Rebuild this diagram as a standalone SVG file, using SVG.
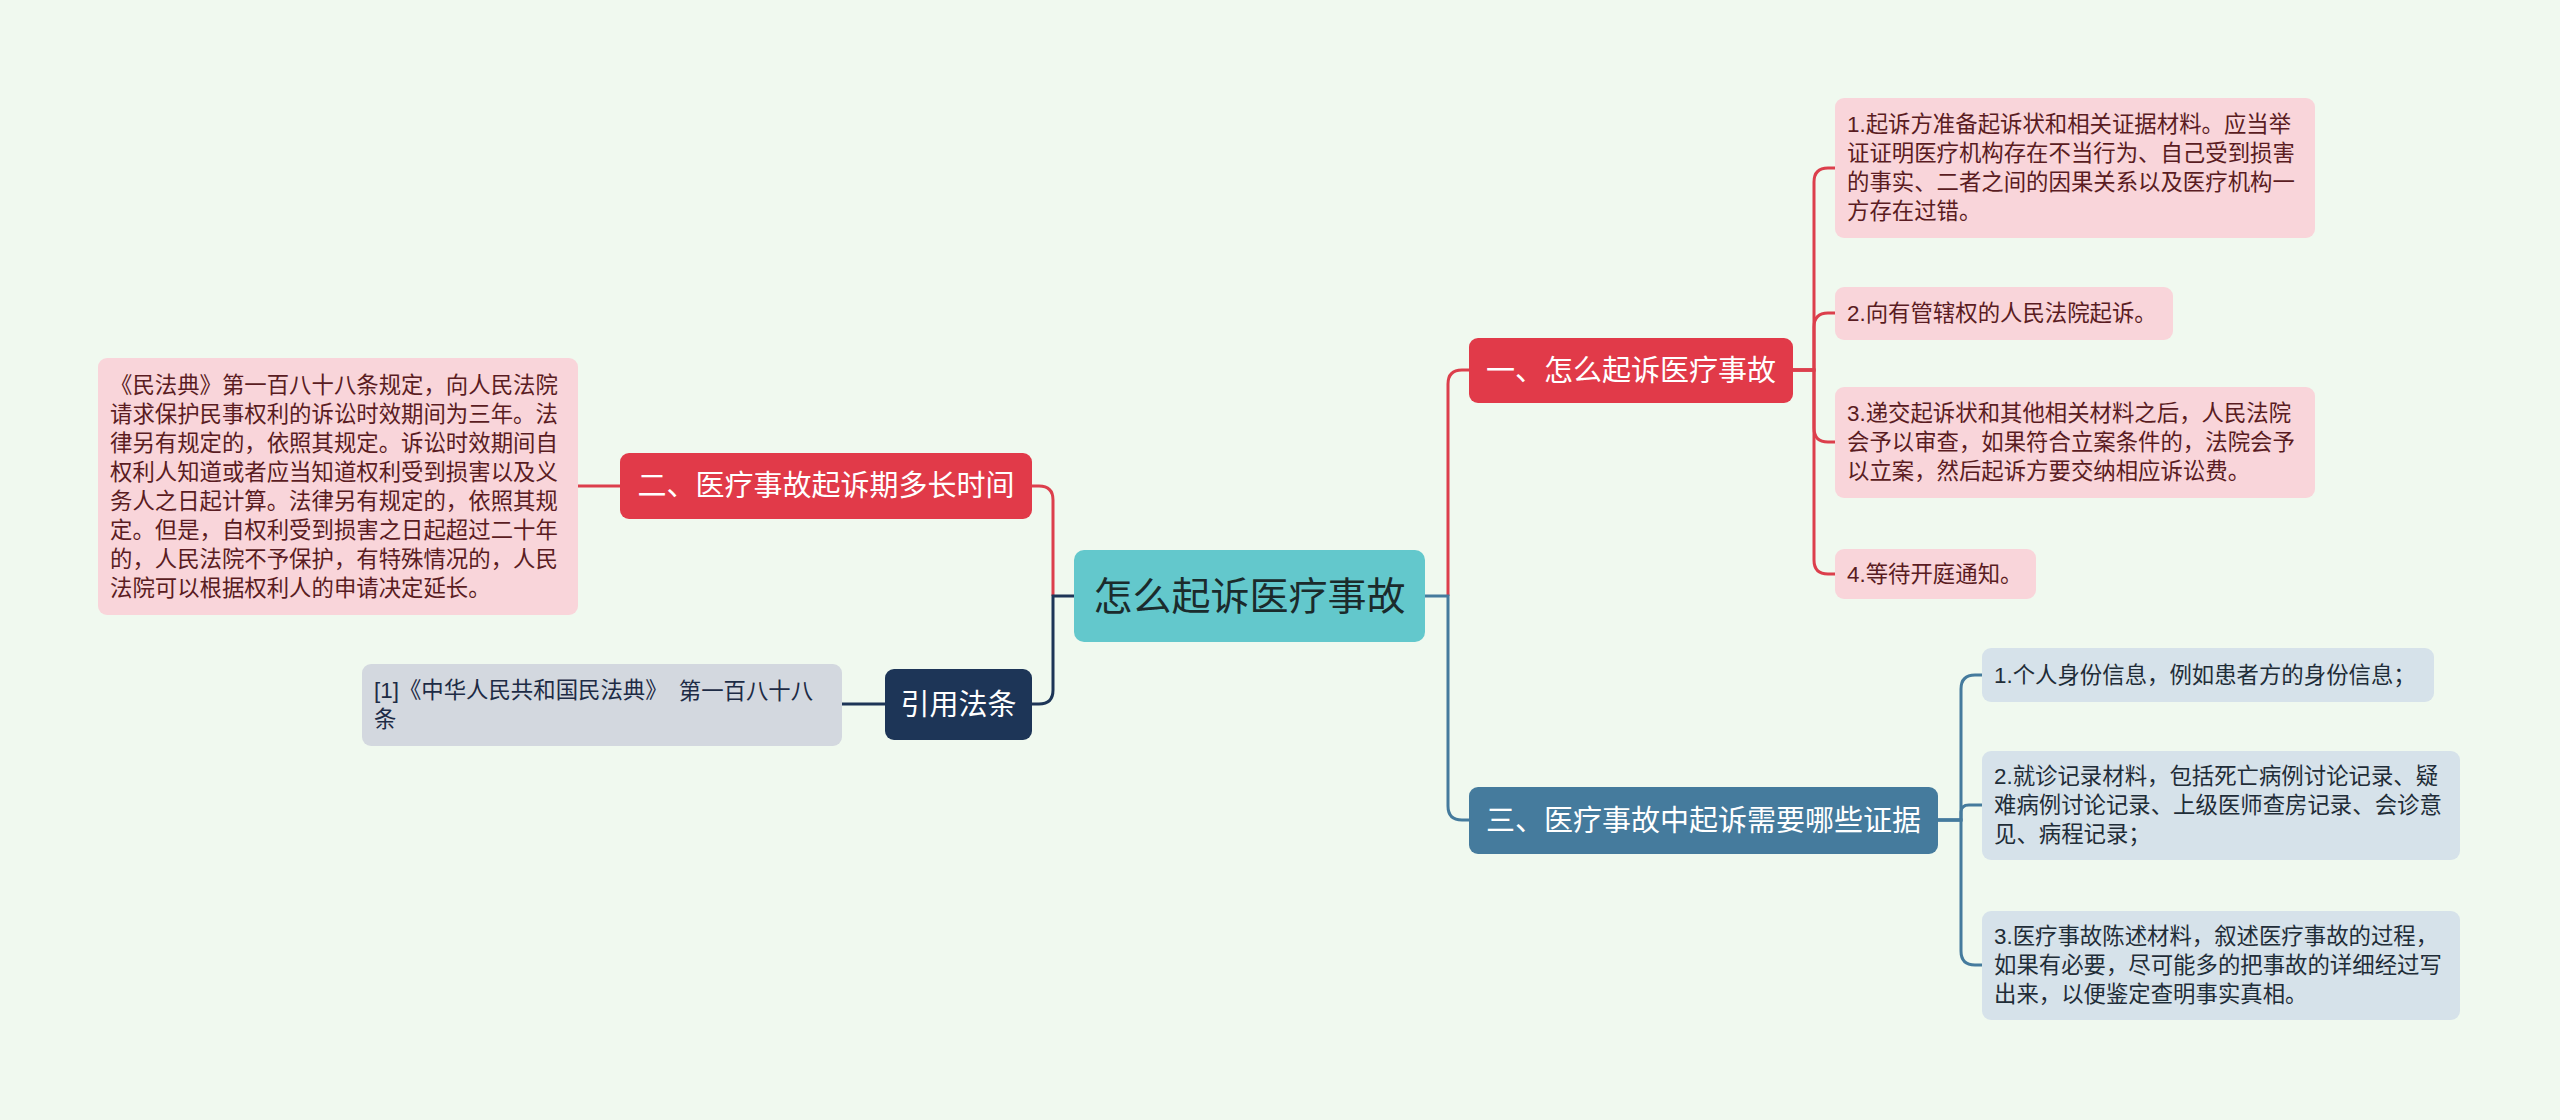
<svg xmlns="http://www.w3.org/2000/svg" width="2560" height="1120" viewBox="0 0 2560 1120">
<style>
text{font-family:"Liberation Sans","Noto Sans CJK SC",sans-serif;dominant-baseline:central}
.main{font-size:29px;fill:#ffffff;text-anchor:middle}
.root{font-size:39px;fill:#1b2b2c;text-anchor:middle}
.lp{font-size:22.4px;fill:#5a1c22}
.lb{font-size:22.4px;fill:#1f2d38}
.lg{font-size:22.4px;fill:#1d2b45}
.cr{fill:none;stroke:#dc3f4c;stroke-width:3}
.cb{fill:none;stroke:#457b9d;stroke-width:3}
.cn{fill:none;stroke:#1d3557;stroke-width:3}
.pink{fill:#f9d5da}
.blue{fill:#d6e2ea}
.grey{fill:#d3d8df}
</style>
<rect width="2560" height="1120" fill="#f0f9ef"/>
<g id="connectors">
<path class="cr" d="M1448,596 V384 Q1448,370 1462,370 H1469"/>
<path class="cb" d="M1425,596 H1448 V806 Q1448,820 1462,820 H1469"/>
<path class="cr" d="M1032,486 H1039 Q1053,486 1053,500 V596"/>
<path class="cn" d="M1074,596 H1053 V690 Q1053,704 1039,704 H1032"/>
<path class="cr" d="M620,486 H578"/>
<path class="cn" d="M885,704 H842"/>
<path class="cr" d="M1793,370 H1814 V182 Q1814,168 1828,168 H1835"/>
<path class="cr" d="M1793,370 H1814 V327 Q1814,313 1828,313 H1835"/>
<path class="cr" d="M1793,370 H1814 V428 Q1814,442 1828,442 H1835"/>
<path class="cr" d="M1793,370 H1814 V560 Q1814,574 1828,574 H1835"/>
<path class="cb" d="M1938,820 H1961 V689 Q1961,675 1975,675 H1982"/>
<path class="cb" d="M1938,820 H1961 V812 Q1961,805 1969,805 H1982"/>
<path class="cb" d="M1938,820 H1961 V951 Q1961,965 1975,965 H1982"/>
</g>
<g id="root">
<rect x="1074" y="550" width="351" height="92" rx="10" fill="#63c8cc"/>
<text class="root" x="1249.5" y="596">怎么起诉医疗事故</text>
</g>
<g id="n1">
<rect x="1469" y="338" width="324" height="65" rx="9" fill="#e13a49"/>
<text class="main" x="1631" y="370.5">一、怎么起诉医疗事故</text>
</g>
<g id="n2">
<rect x="620" y="453" width="412" height="66" rx="9" fill="#e13a49"/>
<text class="main" x="826" y="486">二、医疗事故起诉期多长时间</text>
</g>
<g id="n3">
<rect x="1469" y="787" width="469" height="67" rx="9" fill="#457b9d"/>
<text class="main" x="1703.5" y="820.5">三、医疗事故中起诉需要哪些证据</text>
</g>
<g id="n4">
<rect x="885" y="669" width="147" height="71" rx="9" fill="#1d3557"/>
<text class="main" x="958.5" y="704.5">引用法条</text>
</g>
<g id="leaf-left">
<rect class="pink" x="98" y="358" width="480" height="257" rx="9"/>
<text class="lp" x="110" y="385">《民法典》第一百八十八条规定，向人民法院</text>
<text class="lp" x="110" y="414">请求保护民事权利的诉讼时效期间为三年。法</text>
<text class="lp" x="110" y="443">律另有规定的，依照其规定。诉讼时效期间自</text>
<text class="lp" x="110" y="472">权利人知道或者应当知道权利受到损害以及义</text>
<text class="lp" x="110" y="501">务人之日起计算。法律另有规定的，依照其规</text>
<text class="lp" x="110" y="530">定。但是，自权利受到损害之日起超过二十年</text>
<text class="lp" x="110" y="559">的，人民法院不予保护，有特殊情况的，人民</text>
<text class="lp" x="110" y="588">法院可以根据权利人的申请决定延长。</text>
</g>
<g id="leaf-cite">
<rect class="grey" x="362" y="664" width="480" height="82" rx="9"/>
<text class="lg" x="374" y="690.5">[1]《中华人民共和国民法典》 <tspan dx="5">第一百八十八</tspan></text>
<text class="lg" x="374" y="719.5">条</text>
</g>
<g id="leaf-r1">
<rect class="pink" x="1835" y="98" width="480" height="140" rx="9"/>
<text class="lp" x="1847" y="124.5">1.起诉方准备起诉状和相关证据材料。应当举</text>
<text class="lp" x="1847" y="153.5">证证明医疗机构存在不当行为、自己受到损害</text>
<text class="lp" x="1847" y="182.5">的事实、二者之间的因果关系以及医疗机构一</text>
<text class="lp" x="1847" y="211.5">方存在过错。</text>
</g>
<g id="leaf-r2">
<rect class="pink" x="1835" y="287" width="338" height="53" rx="9"/>
<text class="lp" x="1847" y="313.5">2.向有管辖权的人民法院起诉。</text>
</g>
<g id="leaf-r3">
<rect class="pink" x="1835" y="387" width="480" height="111" rx="9"/>
<text class="lp" x="1847" y="413.5">3.递交起诉状和其他相关材料之后，人民法院</text>
<text class="lp" x="1847" y="442.5">会予以审查，如果符合立案条件的，法院会予</text>
<text class="lp" x="1847" y="471.5">以立案，然后起诉方要交纳相应诉讼费。</text>
</g>
<g id="leaf-r4">
<rect class="pink" x="1835" y="549" width="201" height="50" rx="9"/>
<text class="lp" x="1847" y="574">4.等待开庭通知。</text>
</g>
<g id="leaf-b1">
<rect class="blue" x="1982" y="648" width="452" height="54" rx="9"/>
<text class="lb" x="1994" y="675">1.个人身份信息，例如患者方的身份信息；</text>
</g>
<g id="leaf-b2">
<rect class="blue" x="1982" y="751" width="478" height="109" rx="9"/>
<text class="lb" x="1994" y="776.5">2.就诊记录材料，包括死亡病例讨论记录、疑</text>
<text class="lb" x="1994" y="805.5">难病例讨论记录、上级医师查房记录、会诊意</text>
<text class="lb" x="1994" y="834.5">见、病程记录；</text>
</g>
<g id="leaf-b3">
<rect class="blue" x="1982" y="911" width="478" height="109" rx="9"/>
<text class="lb" x="1994" y="936.5">3.医疗事故陈述材料，叙述医疗事故的过程，</text>
<text class="lb" x="1994" y="965.5">如果有必要，尽可能多的把事故的详细经过写</text>
<text class="lb" x="1994" y="994.5">出来，以便鉴定查明事实真相。</text>
</g>
</svg>
